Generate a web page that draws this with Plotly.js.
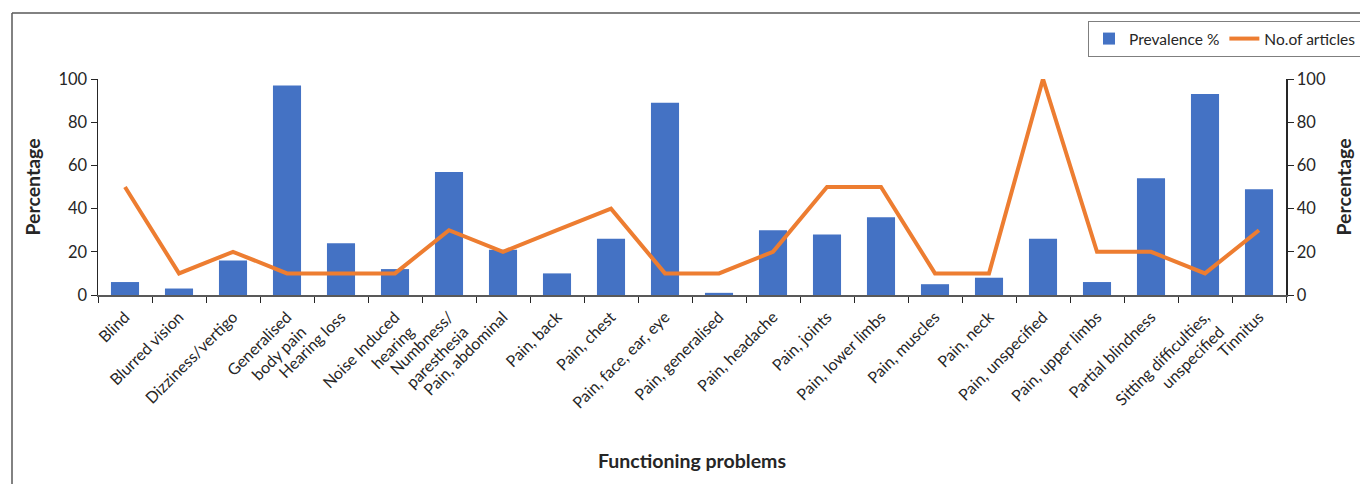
<!DOCTYPE html>
<html>
<head>
<meta charset="utf-8">
<script src="https://cdn.plot.ly/plotly-3.0.1.min.js"></script>
<style>
  html, body { margin: 0; padding: 0; background: #ffffff; }
  #chart { width: 1360px; height: 484px; }
</style>
</head>
<body>
<div id="chart"></div>
<script>
const categories = [
  "Blind", "Blurred vision", "Dizziness/vertigo", "Generalised<br>body pain",
  "Hearing loss", "Noise Induced<br>hearing", "Numbness/<br>paresthesia",
  "Pain, abdominal", "Pain, back", "Pain, chest", "Pain, face, ear, eye",
  "Pain, generalised", "Pain, headache", "Pain, joints", "Pain, lower limbs",
  "Pain, muscles", "Pain, neck", "Pain, unspecified", "Pain, upper limbs",
  "Partial blindness", "Sitting difficulties,<br>unspecified", "Tinnitus"
];
const prevalence = [6, 3, 16, 97, 24, 12, 57, 21, 10, 26, 89, 1, 30, 28, 36, 5, 8, 26, 6, 54, 93, 49];
const articles = [50, 10, 20, 10, 10, 10, 30, 20, 30, 40, 10, 10, 20, 50, 50, 10, 10, 100, 20, 20, 10, 30];
const yTicks = [0, 20, 40, 60, 80, 100];

const FONT = "Lato, 'Open Sans', sans-serif";
const TXT = "#262626";

const traces = [
  {
    type: "bar", name: "Prevalence %", x: categories, y: prevalence,
    marker: { color: "#4472C4" }, yaxis: "y"
  },
  {
    type: "scatter", mode: "lines", name: "No.of articles", x: categories, y: articles,
    line: { color: "#ED7D31", width: 4 }, yaxis: "y2"
  }
];

// pixel helpers for frame (plot area: x 98..1286, y 79..295)
const px = v => (v - 98) / 1188;
const py = v => (295 - v) / 216;

const layout = {
  width: 1360, height: 484,
  margin: { l: 98, r: 74, t: 79, b: 189, autoexpand: false },
  paper_bgcolor: "#ffffff", plot_bgcolor: "#ffffff",
  font: { family: FONT, size: 15, color: TXT },
  bargap: 0.48,
  showlegend: true,
  legend: {
    orientation: "h", x: px(1088), y: py(21), xanchor: "left", yanchor: "top",
    bordercolor: "#7f7f7f", borderwidth: 1, font: { size: 15.5, color: TXT },
    traceorder: "normal", itemwidth: 30
  },
  xaxis: {
    type: "category", tickangle: -45, tickson: "boundaries",
    ticks: "outside", ticklen: 6, tickcolor: "#262626",
    showline: true, linecolor: "#595959", linewidth: 1.5,
    showgrid: false, automargin: false, ticklabelstandoff: 5,
    tickfont: { size: 16, color: TXT },
    title: { text: "Functioning problems", font: { size: 19.5, color: TXT, weight: "bold" }, standoff: 32 }
  },
  yaxis: {
    range: [0, 100], tickvals: yTicks, ticks: "outside", ticklen: 6, tickcolor: "#262626",
    showline: true, linecolor: "#262626", linewidth: 1.5, showgrid: false, zeroline: false,
    automargin: false, tickfont: { size: 16.5, color: TXT },
    title: { text: "Percentage", font: { size: 19.5, color: TXT, weight: "bold" }, standoff: 12 }
  },
  yaxis2: {
    range: [0, 100], tickvals: yTicks, overlaying: "y", side: "right",
    ticks: "outside", ticklen: 6, tickcolor: "#262626",
    showline: true, linecolor: "#262626", linewidth: 1.5, showgrid: false, zeroline: false,
    automargin: false, tickfont: { size: 16.5, color: TXT },
    title: { text: "Percentage", font: { size: 19.5, color: TXT, weight: "bold" }, standoff: 12 }
  },
  shapes: [
    { type: "line", xref: "paper", yref: "paper", x0: px(12), x1: px(1362), y0: py(13), y1: py(13),
      line: { color: "#595959", width: 1.5 } },
    { type: "line", xref: "paper", yref: "paper", x0: px(12), x1: px(12), y0: py(13), y1: py(490),
      line: { color: "#595959", width: 1.5 } }
  ]
};

Plotly.newPlot("chart", traces, layout, { displayModeBar: false, staticPlot: true });
</script>
</body>
</html>
